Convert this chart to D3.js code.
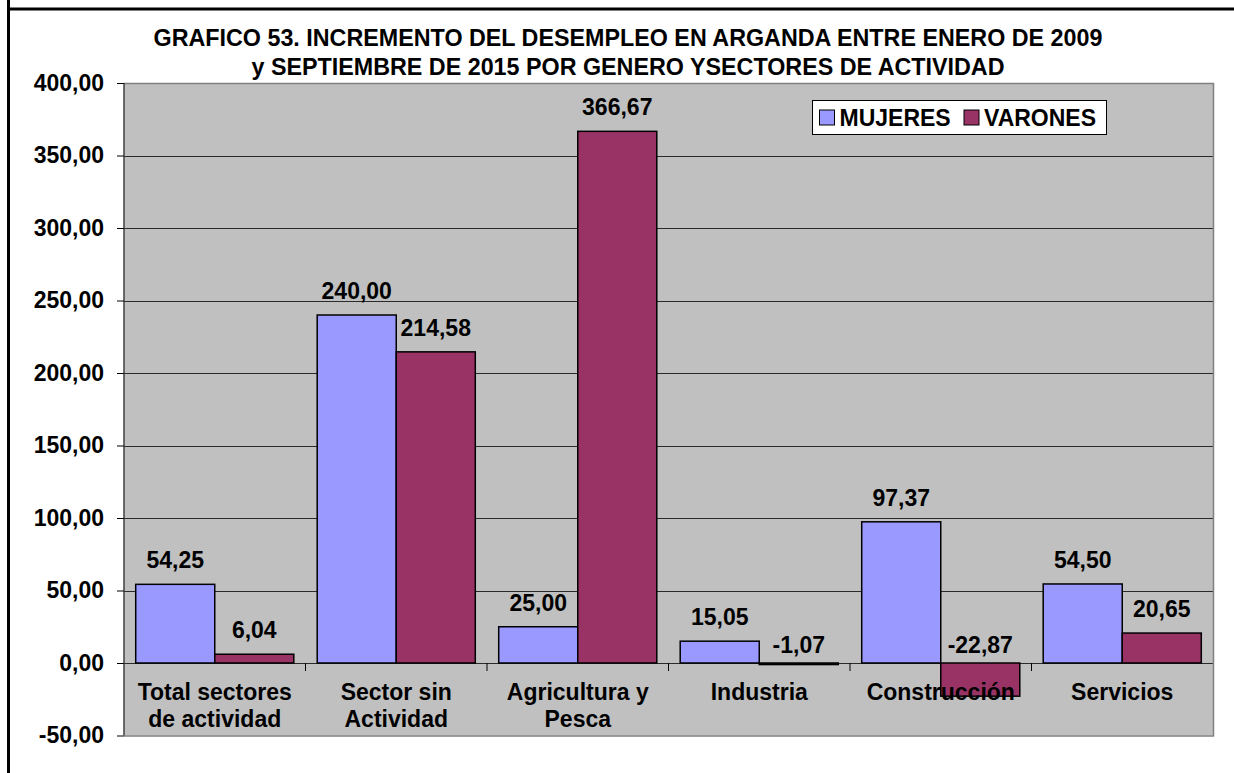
<!DOCTYPE html>
<html>
<head>
<meta charset="utf-8">
<script src="https://cdn.jsdelivr.net/npm/d3@7"></script>
<style>
  html, body { margin: 0; padding: 0; background: #ffffff; }
  svg { display: block; }
  text { font-family: "Liberation Sans", Arial, sans-serif; font-weight: bold; fill: #000; }
</style>
</head>
<body>
<svg id="chart" width="1234" height="773"></svg>
<script>
// Sector categories (label lines) and the two series
const categories = [
  ["Total sectores", "de actividad"],
  ["Sector sin", "Actividad"],
  ["Agricultura y", "Pesca"],
  ["Industria"],
  ["Construcción"],
  ["Servicios"]
];
const seriesNames = ["MUJERES", "VARONES"];
const mujeres = [54.25, 240.00, 25.00, 15.05, 97.37, 54.50];
const varones = [6.04, 214.58, 366.67, -1.07, -22.87, 20.65];
const yTicks = [-50, 0, 50, 100, 150, 200, 250, 300, 350, 400];
const titleLines = [
  "GRAFICO 53. INCREMENTO DEL DESEMPLEO EN ARGANDA ENTRE ENERO DE 2009",
  "y SEPTIEMBRE DE 2015 POR GENERO YSECTORES DE ACTIVIDAD"
];

const colors = { MUJERES: "#9999FF", VARONES: "#993366" };
const seriesValues = { MUJERES: mujeres, VARONES: varones };

const svg = d3.select("#chart");
const plot = { left: 124, right: 1213, top: 83, bottom: 735.5 };
const labelSize = "23px";

// Outer frame lines
svg.append("line").attr("x1", 7).attr("x2", 1234).attr("y1", 9).attr("y2", 9)
  .attr("stroke", "#000").attr("stroke-width", 3);
svg.append("line").attr("x1", 8.5).attr("x2", 8.5).attr("y1", 0).attr("y2", 773)
  .attr("stroke", "#000").attr("stroke-width", 3);

// Title
svg.append("g").selectAll("text").data(titleLines).join("text")
  .attr("x", 628).attr("y", (d, i) => 45.5 + i * 29)
  .attr("text-anchor", "middle").style("font-size", "23.3px")
  .text(d => d);

// Scales
const keys = categories.map(c => c.join(" "));
const x0 = d3.scaleBand().domain(keys).range([plot.left, plot.right]).padding(0);
const gap = x0.bandwidth() * 0.0645;
const x1 = d3.scaleBand().domain(seriesNames).range([gap, x0.bandwidth() - gap]).padding(0);
const y = d3.scaleLinear().domain([-50, 400]).range([plot.bottom, plot.top]);

// Plot background
svg.append("rect").attr("x", plot.left).attr("y", plot.top)
  .attr("width", plot.right - plot.left).attr("height", plot.bottom - plot.top)
  .attr("fill", "#C0C0C0");

// Horizontal gridlines
svg.append("g").selectAll("line").data(yTicks.filter(v => v > -50 && v < 400)).join("line")
  .attr("x1", plot.left).attr("x2", plot.right)
  .attr("y1", d => Math.round(y(d)) + 0.5).attr("y2", d => Math.round(y(d)) + 0.5)
  .attr("stroke", "#2a2a2a").attr("stroke-width", 1);

// Plot border (top, right, bottom)
svg.append("path")
  .attr("d", `M${plot.left},${plot.top + 0.5}H${plot.right + 0.5}V${plot.bottom + 0.5}H${plot.left}`)
  .attr("fill", "none").attr("stroke", "#808080").attr("stroke-width", 1.5);

// Bars
const groups = svg.append("g").selectAll("g").data(keys).join("g")
  .attr("transform", d => `translate(${x0(d)},0)`);
groups.selectAll("rect")
  .data((k, i) => seriesNames.map(s => ({ s, v: seriesValues[s][i] })))
  .join("rect")
  .attr("x", d => x1(d.s))
  .attr("width", x1.bandwidth())
  .attr("y", d => y(Math.max(0, d.v)))
  .attr("height", d => Math.abs(y(d.v) - y(0)))
  .attr("fill", d => colors[d.s])
  .attr("stroke", "#000").attr("stroke-width", 1.5);

// Category boundary ticks on the zero line
svg.append("g").selectAll("line").data(keys.slice(1)).join("line")
  .attr("x1", d => x0(d)).attr("x2", d => x0(d))
  .attr("y1", y(0)).attr("y2", y(0) + 8)
  .attr("stroke", "#000").attr("stroke-width", 1);

// Value labels (comma decimals, plain hyphen minus)
const fmt = v => d3.format(".2f")(v).replace(".", ",").replace("\u2212", "-");
groups.selectAll("text.val")
  .data((k, i) => seriesNames.map(s => ({ s, v: seriesValues[s][i] })))
  .join("text").attr("class", "val")
  .attr("x", d => x1(d.s) + x1.bandwidth() / 2)
  .attr("y", d => d.v >= 0 ? y(d.v) - 16 : y(0) - 10)
  .attr("text-anchor", "middle").style("font-size", labelSize)
  .text(d => fmt(d.v));

// Category labels
svg.append("g").selectAll("text").data(categories).join("text")
  .attr("text-anchor", "middle").style("font-size", labelSize)
  .attr("transform", (d, i) => `translate(${x0(keys[i]) + x0.bandwidth() / 2},700)`)
  .selectAll("tspan").data(d => d).join("tspan")
  .attr("x", 0).attr("y", (d, i) => i * 27)
  .text(d => d);

// Y axis
const yAxis = d3.axisLeft(y).tickValues(yTicks).tickSize(7).tickPadding(13).tickFormat(fmt);
const gy = svg.append("g").attr("transform", `translate(${plot.left},0)`).call(yAxis);
gy.select(".domain").attr("stroke", "#404040").attr("stroke-width", 1.5)
  .attr("d", `M0,${plot.top}V${plot.bottom}`);
gy.selectAll(".tick line").attr("stroke", "#000");
gy.selectAll(".tick text")
  .attr("font-family", null).attr("font-size", null)
  .style("font-size", labelSize).style("fill", "#000");

// Legend
const legend = svg.append("g");
legend.append("rect").attr("x", 812.5).attr("y", 100.5).attr("width", 294).attr("height", 34)
  .attr("fill", "#fff").attr("stroke", "#000").attr("stroke-width", 1);
const legendX = { MUJERES: 819.5, VARONES: 964 };
const items = legend.selectAll("g").data(seriesNames).join("g")
  .attr("transform", d => `translate(${legendX[d]},110)`);
items.append("rect").attr("width", 15).attr("height", 15)
  .attr("fill", d => colors[d]).attr("stroke", "#000").attr("stroke-width", 1);
items.append("text").attr("x", 20).attr("y", 15.5)
  .style("font-size", labelSize).text(d => d);
</script>
</body>
</html>
